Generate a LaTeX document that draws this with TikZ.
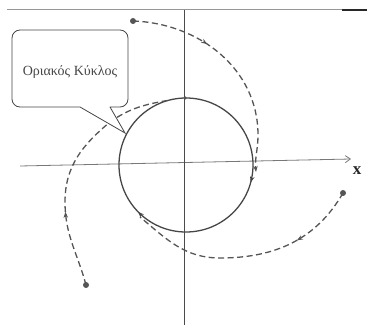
\documentclass[tikz,border=0pt]{standalone}
\usepackage{fontspec}
\setmainfont{Liberation Serif}
\usetikzlibrary{arrows.meta,decorations.markings}
\definecolor{cAxis}{RGB}{120,120,120}
\definecolor{cAxisV}{RGB}{75,75,75}
\definecolor{cCyc}{RGB}{70,70,70}
\definecolor{cTraj}{RGB}{85,85,85}
\definecolor{cRule}{RGB}{150,150,150}
\definecolor{cRuleD}{RGB}{40,40,40}
\tikzset{
  axis/.style={draw=cAxis, line width=0.8pt},
  axisV/.style={draw=cAxisV, line width=1pt},
  limcyc/.style={draw=cCyc, line width=1.3pt},
  traj/.style={draw=cTraj, line width=1.3pt, dash pattern=on 6pt off 3.5pt},
  midarr/.style={postaction={decorate, decoration={markings,
    mark=at position #1 with {\arrow{Stealth[length=6pt,width=4.5pt]}}}}},
  startdot/.style={fill=cTraj, circle, inner sep=0pt, minimum size=6pt},
  callbox/.style={draw=cCyc, line width=0.8pt, fill=white, line cap=round},
  lab/.style={font=\fontsize{14}{16}\selectfont, text=cCyc},
}

\begin{document}
\begin{tikzpicture}[x=1pt, y=1pt]
\useasboundingbox (0,0) rectangle (367,327);

% ===== frame rule and axes =====
\coordinate (rl) at (7,317);
\coordinate (rm) at (342,317);
\coordinate (rr) at (367,317);
\draw[draw=cRule, line width=1pt] (rl) -- (rm);
\draw[draw=cRuleD, line width=1.2pt] (rm) -- (rr);

\coordinate (xl) at (20,161);
\coordinate (xr) at (351,168);
\coordinate (yt) at (184,317);
\coordinate (yb) at (184,2);
\draw[axis, -{Straight Barb[length=5pt,width=7pt]}] (xl) -- (xr);
\draw[axisV] (yt) -- (yb);
\node[font=\fontsize{17}{17}\selectfont\bfseries, text=cRuleD] (xlab) at (357,156) {x};

% ===== limit cycle (clockwise) =====
\coordinate (O) at (186,162);
\draw[limcyc, midarr=0.042, midarr=0.377]
  (O) ++(0:67) arc[start angle=0, end angle=-360, radius=67];
\node[startdot, minimum size=3.5pt] (top) at (185,229) {};

% ===== trajectories =====
\node[startdot] (s1) at (133,306) {};
\node[startdot] (s2) at (343,134) {};
\node[startdot] (s3) at (86,42) {};
\coordinate (e1) at (256,155);
\coordinate (e2) at (140,110);
\coordinate (e3) at (170,227);

\draw[traj, midarr=0.35, -{Stealth[length=6pt,width=4.5pt]}]
  (s1.center) to[out=-2,in=90] (258,192) to[out=-90,in=95] (e1);
\draw[traj, midarr=0.28]
  (s2.center) to[out=-120,in=0] (220,69) to[out=180,in=-40] (e2);
\draw[traj, midarr=0.31]
  (s3.center) to[out=105,in=-90] (65,125) to[out=90,in=-140] (110,205)
  to[out=35,in=190] (e3);

% ===== callout =====
\draw[callbox] (110,220) -- (125,194) -- (80,220) [rounded corners=8pt]
  -- (12,220) -- (12,297) -- (128,297) -- (128,220) -- (110,220);
\node[lab] (call) at (70,255) {Οριακός Κύκλος};

\end{tikzpicture}
\end{document}
